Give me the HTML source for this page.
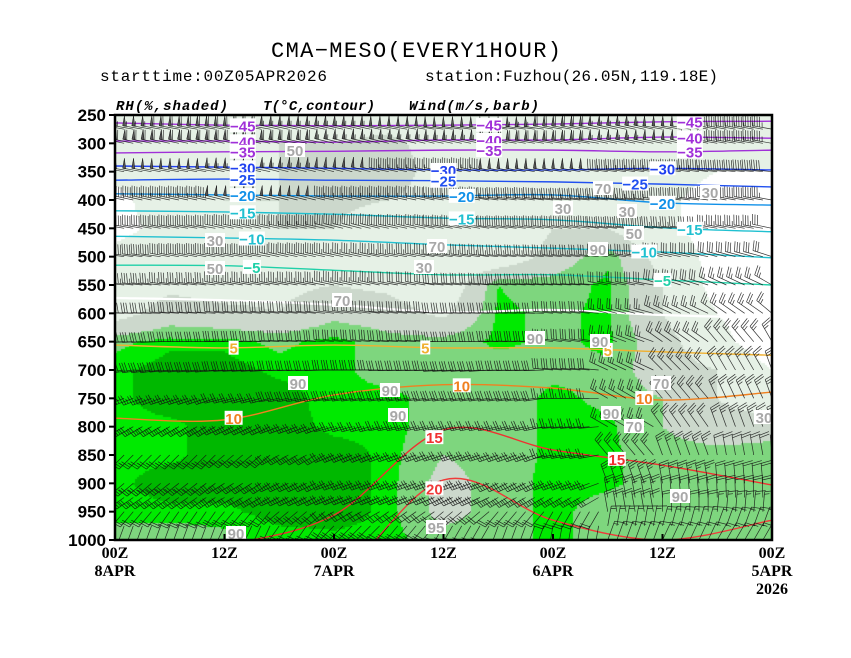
<!DOCTYPE html>
<html><head><meta charset="utf-8">
<style>
html,body{margin:0;padding:0;background:#fff;}
#wrap{position:relative;width:851px;height:658px;overflow:hidden;background:#fff;}
#rh{position:absolute;left:115px;top:115px;}
#svg{position:absolute;left:0;top:0;}
text{font-family:"Liberation Sans",sans-serif;}
.mono{font-family:"Liberation Mono",monospace;}
</style></head>
<body>
<div id="wrap">
<canvas id="rh" width="657" height="425"></canvas>
<svg id="svg" width="851" height="658" xmlns="http://www.w3.org/2000/svg">
  <defs><clipPath id="clip"><rect x="115" y="115" width="657" height="425"/></clipPath></defs>
  <text class="mono" x="416" y="57" text-anchor="middle" font-size="22" textLength="290">CMA−MESO(EVERY1HOUR)</text>
  <text class="mono" x="100" y="81" font-size="16" textLength="227">starttime:00Z05APR2026</text>
  <text class="mono" x="425" y="81" font-size="16" textLength="293">station:Fuzhou(26.05N,119.18E)</text>
  <text class="mono" x="116" y="110" font-size="14" font-weight="bold" font-style="italic" textLength="112">RH(%,shaded)</text>
  <text class="mono" x="263" y="110" font-size="14" font-weight="bold" font-style="italic" textLength="112">T(°C,contour)</text>
  <text class="mono" x="409" y="110" font-size="14" font-weight="bold" font-style="italic" textLength="130">Wind(m/s,barb)</text>
  <g id="contours" clip-path="url(#clip)"></g>
  <g id="barbs" clip-path="url(#clip)"></g>
  <g id="labels"></g>
  <rect x="115" y="115" width="657" height="425" fill="none" stroke="#000" stroke-width="2.5"/>
  <g id="axes"></g>
</svg>
</div>
<script>
// ---- data ----
const timeNodes = [0,6,12,18,24,30,36,42,48,54,60,66,72];
const rhLevels = [250,300,350,400,450,500,550,600,650,700,750,800,850,900,950,1000];
const rhCol0 = [45,45,40,20,20,40,45,50,88,93,93,93,93,93,93,85];
const rhCol1 = [45,45,50,50,40,50,55,70,93,96,96,93,93,96,93,85];
const rhCol2 = [40,50,55,60,55,55,50,65,93,96,96,96,96,96,93,88];
const rhCol3 = [55,60,60,60,60,60,55,60,88,93,96,96,96,96,96,92];
const rhCol4 = [50,60,65,65,60,55,60,75,93,93,92,93,96,96,96,93];
const rhCol5 = [50,65,75,60,45,40,55,70,85,85,93,93,93,93,93,93];
const rhCol6 = [40,50,45,50,50,40,40,55,85,85,85,85,80,75,75,85];
const rhCol7 = [40,40,40,40,35,40,90,92,92,85,85,85,85,85,85,85];
const rhCol8 = [50,55,55,50,60,70,85,88,88,88,92,92,92,93,93,93];
const rhCol9 = [50,55,55,45,60,88,92,92,92,88,88,92,92,92,85,85];
const rhCol10 = [45,45,40,35,35,50,60,60,70,70,80,80,85,85,85,85];
const rhCol11 = [45,40,30,20,20,20,20,30,40,60,60,70,85,85,85,85];
const rhCol12 = [40,40,30,10,10,10,10,10,10,30,40,75,85,85,85,85];
const rhCols = [rhCol0,rhCol1,rhCol2,rhCol3,rhCol4,rhCol5,rhCol6,rhCol7,rhCol8,rhCol9,rhCol10,rhCol11,rhCol12];

const isoTimes = [0,12,24,36,48,60,72];
const isoTemps = [-45,-40,-35,-30,-25,-20,-15,-10,-5,0,5,10,15,20];
const isoM45 = [264,268,269,268,266,262,261];
const isoM40 = [296,296,298,294,294,289,291];
const isoM35 = [317,315,314,312,312,315,312];
const isoM30 = [340,342,344,347,347,344,347];
const isoM25 = [365,363,365,366,368,372,377];
const isoM20 = [389,391,393,393,391,405,409];
const isoM15 = [419,421,425,432,435,449,456];
const isoM10 = [464,467,471,479,485,492,502];
const isoM5 = [515,516,524,532,532,541,550];
const iso0 = [573,577,585,598,594,603,608];
const iso5 = [656,661,656,661,661,668,674];
const iso10 = [785,788,744,726,732,753,739];
const iso15 = [1035,1009,956,806,841,868,903];
const iso20 = [1141,1141,1071,894,965,1000,965];
const isoLines = [isoM45,isoM40,isoM35,isoM30,isoM25,isoM20,isoM15,isoM10,isoM5,iso0,iso5,iso10,iso15,iso20];
const isoLabelTimes = [[14,41,63],[14,41,63],[14,41,63],[14,36,60],[14,36,57],[14,38,60],[14,38,63],[15,58],[15,60],[],[13,34,54],[13,38,58],[35,55],[35]];

const windLevels = [275,300,350,400,450,500,550,600,650,700,750,800,850,900,925,950,975,1000];
const windDir = [
 [280,280,280,282,282,280,278,278,280,282,280,280,280],
 [282,282,282,282,284,284,282,280,280,282,282,280,280],
 [280,280,282,284,284,282,282,280,280,278,278,276,276],
 [282,282,284,284,282,282,280,278,276,276,278,280,280],
 [280,280,282,282,284,282,280,278,278,276,276,280,282],
 [278,280,280,282,282,280,278,276,276,278,282,285,288],
 [276,278,280,280,282,280,276,274,274,280,288,295,300],
 [272,274,276,276,278,276,272,272,276,285,295,305,310],
 [268,270,272,274,276,274,270,272,278,290,305,320,330],
 [262,264,266,268,270,268,266,268,275,295,315,330,340],
 [250,252,256,260,262,262,262,262,270,300,320,335,340],
 [240,240,245,250,255,258,258,258,265,300,325,340,345],
 [225,225,230,240,248,250,252,250,260,320,340,350,355],
 [230,232,238,245,250,250,250,245,250,340,350,355,358],
 [235,235,240,245,248,248,245,240,240,350,355,358,5],
 [220,215,220,230,240,235,230,220,210,350,0,5,10],
 [200,200,205,215,225,220,210,200,190,10,15,20,20],
 [190,190,195,200,210,205,195,185,175,20,25,30,30]];
const windSpd = [
 [22,24,24,22,22,20,20,22,24,22,20,18,18],
 [24,24,24,24,22,22,22,24,24,22,20,18,18],
 [20,20,22,22,20,18,18,20,20,18,18,16,16],
 [18,18,20,20,18,18,18,18,18,18,16,16,14],
 [16,16,16,18,16,16,16,16,16,16,14,14,12],
 [16,16,16,16,14,14,14,14,14,14,12,12,12],
 [14,14,14,14,14,12,12,14,12,12,12,10,10],
 [12,12,12,12,12,12,12,12,12,10,10,10,10],
 [12,12,12,12,12,12,12,12,12,10,10,10,10],
 [12,12,12,12,12,12,12,12,12,10,10,10,10],
 [10,10,10,12,12,12,12,12,10,10,10,10,10],
 [10,10,10,10,10,10,10,10,10,10,10,10,10],
 [10,10,10,10,10,10,10,10,10,10,10,8,8],
 [10,10,10,10,10,10,10,10,10,10,10,8,8],
 [10,10,10,10,10,10,10,10,10,10,8,8,8],
 [8,8,8,8,8,8,8,8,8,8,8,6,6],
 [6,6,6,8,8,8,8,8,8,6,6,6,6],
 [6,6,6,6,6,6,6,6,6,6,6,6,6]];

const yTickLabels = [250,300,350,400,450,500,550,600,650,700,750,800,850,900,950,1000];
const xTickHours = [0,12,24,36,48,60,72];
const xTickLabels = ["00Z","12Z","00Z","12Z","00Z","12Z","00Z"];
const xTickDates = ["8APR","","7APR","","6APR","","5APR"];

const rhBoxes = [["90",236,533],["90",298,383],["90",398,415],["90",390,390],["90",535,338],["90",600,341],["90",598,249],["70",437,246],["70",342,300],["70",634,426],["70",603,188],["50",215,268],["50",295,150],["50",634,233],["30",215,240],["30",424,267],["30",563,208],["30",627,211],["30",764,417],["30",710,192],["90",680,496],["70",661,383],["95",436,527],["90",611,413]];

// ---- scales ----
const X0=115, X1=772, Y0=115, Y1=540;
function xs(h){return X0+h*(X1-X0)/72;}
function ys(p){return Y0+(p-250)*(Y1-Y0)/750;}
const NS="http://www.w3.org/2000/svg";
function mk(tag,attrs,parent){const e=document.createElementNS(NS,tag);for(const k in attrs)e.setAttribute(k,attrs[k]);parent.appendChild(e);return e;}

// ---- RH shading ----
(function(){
 const c=document.getElementById('rh').getContext('2d');
 const step=2;
 function rhAt(h,p){
   let ci=h/6; let c0=Math.min(Math.floor(ci),rhCols.length-2); let ft=ci-c0;
   let ri=(p-250)/50; let r0=Math.min(Math.floor(ri),rhLevels.length-2); let fp=ri-r0;
   const a=rhCols[c0][r0],b=rhCols[c0+1][r0],d=rhCols[c0][r0+1],e=rhCols[c0+1][r0+1];
   return (a*(1-ft)+b*ft)*(1-fp)+(d*(1-ft)+e*ft)*fp;
 }
 function col(v){
   if(v<30) return null;
   if(v<60) return '#e6f1e6';
   if(v<80) return '#ccd8cc';
   if(v<90) return '#7ed67e';
   if(v<94) return '#00ea00';
   return '#00b800';
 }
 for(let px=0;px<657;px+=step){
   for(let py=0;py<425;py+=step){
     const h=(px+1)*72/657, p=250+(py+1)*750/425;
     const cc=col(rhAt(h,p));
     if(cc){c.fillStyle=cc;c.fillRect(px,py,step,step);}
   }
 }
})();

// ---- isotherms ----
const isoColors={"-45":"#a030d8","-40":"#a030d8","-35":"#a030d8","-30":"#2040f0","-25":"#2050f0","-20":"#1090e8","-15":"#20c0d0","-10":"#20c0d0","-5":"#20d0a8","0":"#ffffff","5":"#f0b030","10":"#f08020","15":"#f03030","20":"#f03a3a"};
(function(){
 const g=document.getElementById('contours');
 const lg=document.getElementById('labels');
 isoTemps.forEach((t,i)=>{
   const pts=isoTimes.map((h,j)=>[xs(h),ys(isoLines[i][j])]);
   let d='M'+pts[0][0]+','+pts[0][1];
   for(let k=0;k<pts.length-1;k++){
     const p0=pts[Math.max(k-1,0)],p1=pts[k],p2=pts[k+1],p3=pts[Math.min(k+2,pts.length-1)];
     const c1=[p1[0]+(p2[0]-p0[0])/6,p1[1]+(p2[1]-p0[1])/6];
     const c2=[p2[0]-(p3[0]-p1[0])/6,p2[1]-(p3[1]-p1[1])/6];
     d+=' C'+c1[0]+','+c1[1]+' '+c2[0]+','+c2[1]+' '+p2[0]+','+p2[1];
   }
   const path=mk('path',{d:d,fill:'none',stroke:isoColors[t],'stroke-width':t===0?2.2:1.4},g);
   
   
   isoLabelTimes[i].forEach(h=>{
     let j=Math.min(Math.floor(h/12),5); let f=(h-isoTimes[j])/12;
     const p=isoLines[i][j]*(1-f)+isoLines[i][j+1]*f;
     const y=ys(p);
     if(y<Y0||y>Y1) return;
     const lab=(t<0?'−'+(-t):String(t));
     const w=lab.length*8+2;
     const r=mk('rect',{x:xs(h)-w/2,y:y-7,width:w,height:14,fill:'#fff'},lg);
     
     
     const tx=mk('text',{x:xs(h),y:y+6,'text-anchor':'middle','font-size':15,'font-weight':'bold',fill:isoColors[t]},lg);
     tx.textContent=lab;
     
     
   });
 });
 rhBoxes.forEach(b=>{
   const r=mk('rect',{x:b[1]-10,y:b[2]-7,width:20,height:14,fill:'#fff'},lg);
   
   
   const tx=mk('text',{x:b[1],y:b[2]+6,'text-anchor':'middle','font-size':15,'font-weight':'bold',fill:'#a8a8a8'},lg);
   tx.textContent=b[0];
   
   
 });
})();

// ---- wind barbs ----
(function(){
 const g=document.getElementById('barbs');
 const L=20, F=10;
 windLevels.forEach((p,li)=>{
   const y=ys(p);
   for(let h=0;h<=72;h++){
     const ni=Math.min(Math.floor(h/6),12);
     const dir=windDir[li][ni], spd=windSpd[li][ni];
     const x=xs(h);
     const rad=dir*Math.PI/180;
     const ux=Math.sin(rad), uy=-Math.cos(rad);
     const px=-uy, py=ux;
     let d='M'+x+','+y+' L'+(x+ux*L)+','+(y+uy*L);
     let s=spd, pos=L, pen='';
     while(s>=20){
       const a=[x+ux*pos,y+uy*pos], b=[x+ux*(pos-3),y+uy*(pos-3)];
       pen+='M'+a[0]+','+a[1]+' L'+(a[0]+px*F)+','+(a[1]+py*F)+' L'+b[0]+','+b[1]+'Z ';
       pos-=4; s-=20;
     }
     while(s>=4){
       const a=[x+ux*pos,y+uy*pos];
       d+=' M'+a[0]+','+a[1]+' l'+(px*F+ux*2)+','+(py*F+uy*2);
       pos-=2.5; s-=4;
     }
     if(s>=2){
       const a=[x+ux*pos,y+uy*pos];
       d+=' M'+a[0]+','+a[1]+' l'+(px*F/2+ux)+','+(py*F/2+uy);
     }
     const bg=mk('g',{},g);
     
     
     mk('path',{d:d,fill:'none',stroke:'#111','stroke-width':0.7,'stroke-opacity':0.85},bg);
     if(pen) mk('path',{d:pen,fill:'#555',stroke:'#111','stroke-width':0.5},bg);
   }
 });
})();

// ---- axes ----
(function(){
 const g=document.getElementById('axes');
 yTickLabels.forEach(p=>{
   const y=ys(p);
   const tk=mk('line',{x1:X0-6,x2:X0,y1:y,y2:y,stroke:'#000','stroke-width':2},g);
   
   
   const t=mk('text',{x:X0-9,y:y+6,'text-anchor':'end','font-size':17,'font-weight':'bold'},g);
   t.textContent=p;
   
   
 });
 xTickHours.forEach((h,i)=>{
   const x=xs(h);
   const tk=mk('line',{x1:x,x2:x,y1:Y1-6,y2:Y1,stroke:'#000','stroke-width':2},g);
   
   
   const t=mk('text',{x:x,y:Y1+18,'text-anchor':'middle','font-size':16,'font-weight':'bold',style:"font-family:'Liberation Serif',serif"},g);
   t.textContent=xTickLabels[i];
   
   
   if(xTickDates[i]){
     const t2=mk('text',{x:x,y:Y1+36,'text-anchor':'middle','font-size':16,'font-weight':'bold',style:"font-family:'Liberation Serif',serif"},g);
     t2.textContent=xTickDates[i];
     
     
   }
 });
 const yr=mk('text',{x:xs(72),y:Y1+54,'text-anchor':'middle','font-size':16,'font-weight':'bold',style:"font-family:'Liberation Serif',serif"},g);
 yr.textContent='2026';
 
 
})();
</script>
</body></html>
